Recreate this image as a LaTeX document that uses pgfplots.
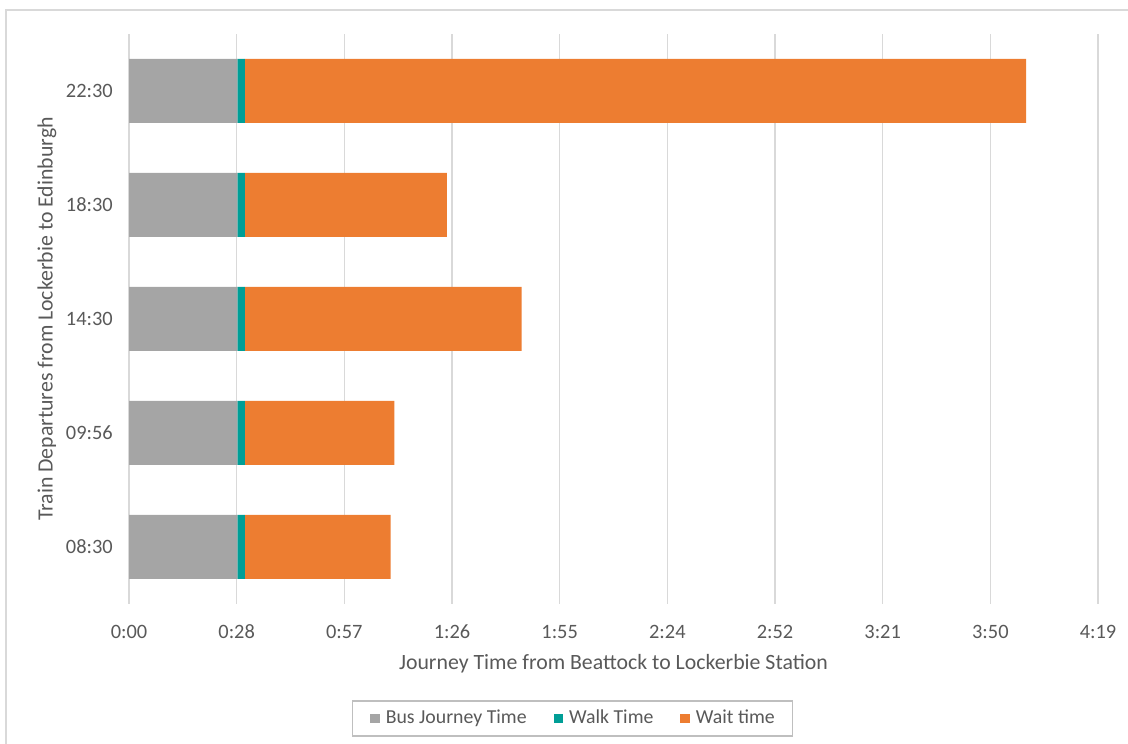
\documentclass[border=0pt]{standalone}
\usepackage{pgfplots}
\pgfplotsset{compat=1.18}
\usepackage{fontspec}
\setmainfont{Carlito}
\definecolor{busgray}{HTML}{A5A5A5}
\definecolor{walkteal}{HTML}{009E96}
\definecolor{waitorange}{HTML}{ED7D31}
\definecolor{txt}{HTML}{595959}
\definecolor{gridc}{HTML}{D9D9D9}
\definecolor{legbord}{HTML}{BFBFBF}
\pgfplotsset{sqleg/.style={legend image code/.code={\fill[##1] (0pt,-4.7pt) rectangle (9.5pt,4.7pt);}}}
\begin{document}
\begin{tikzpicture}[x=1pt,y=1pt]
\useasboundingbox (0,0) rectangle (1128,744);
\draw[gridc, line width=1.5pt] (6,-20) -- (6,734) -- (1150,734);
\begin{axis}[at={(129pt,140pt)}, anchor=south west, scale only axis,
 width=969pt, height=570pt,
 xbar stacked, bar width=64pt,
 xmin=0, xmax=259.2, ymin=-0.5, ymax=4.5,
 ytick={0,1,2,3,4}, yticklabels={08:30,09:56,14:30,18:30,22:30},
 xtick={0,28.8,57.6,86.4,115.2,144,172.8,201.6,230.4,259.2},
 xticklabels={0:00,0:28,0:57,1:26,1:55,2:24,2:52,3:21,3:50,4:19},
 xmajorgrids, grid style={draw=gridc, line width=1.5pt},
 axis line style={draw=none}, major tick length=0pt,
 tick label style={font=\fontsize{20.4}{22}\selectfont, text=txt, inner sep=0pt},
 xticklabel style={anchor=center, yshift=-28pt},
 yticklabel style={anchor=east, xshift=-16pt},
 xlabel={Journey Time from Beattock to Lockerbie Station},
 ylabel={Train Departures from Lockerbie to Edinburgh},
 xlabel style={at={(axis description cs:0.5,0)}, anchor=center, yshift=-60pt, font=\fontsize{21.8}{24}\selectfont, text=txt},
 ylabel style={at={(axis description cs:-0.0846,0.5)}, anchor=center, font=\fontsize{21.8}{24}\selectfont, text=txt},
 legend columns=3,
 legend style={at={(axis description cs:0.4577,-0.2009)}, anchor=center,
   draw=legbord, line width=1.2pt, font=\fontsize{19.8}{21}\selectfont, text=txt,
   inner xsep=18pt, inner ysep=8.5pt,
   nodes={inner sep=0pt, text height=14pt, text depth=4pt},
   /tikz/every odd column/.append style={column sep=6pt},
   /tikz/every even column/.append style={column sep=27pt}},
]
\addplot[fill=busgray, draw=none, sqleg] coordinates {(29,0) (29,1) (29,2) (29,3) (29,4)};
\addplot[fill=walkteal, draw=none, sqleg] coordinates {(2,0) (2,1) (2,2) (2,3) (2,4)};
\addplot[fill=waitorange, draw=none, sqleg] coordinates {(39,0) (40,1) (74,2) (54,3) (209,4)};
\legend{Bus Journey Time, Walk Time, Wait time}
\end{axis}
\end{tikzpicture}
\end{document}
